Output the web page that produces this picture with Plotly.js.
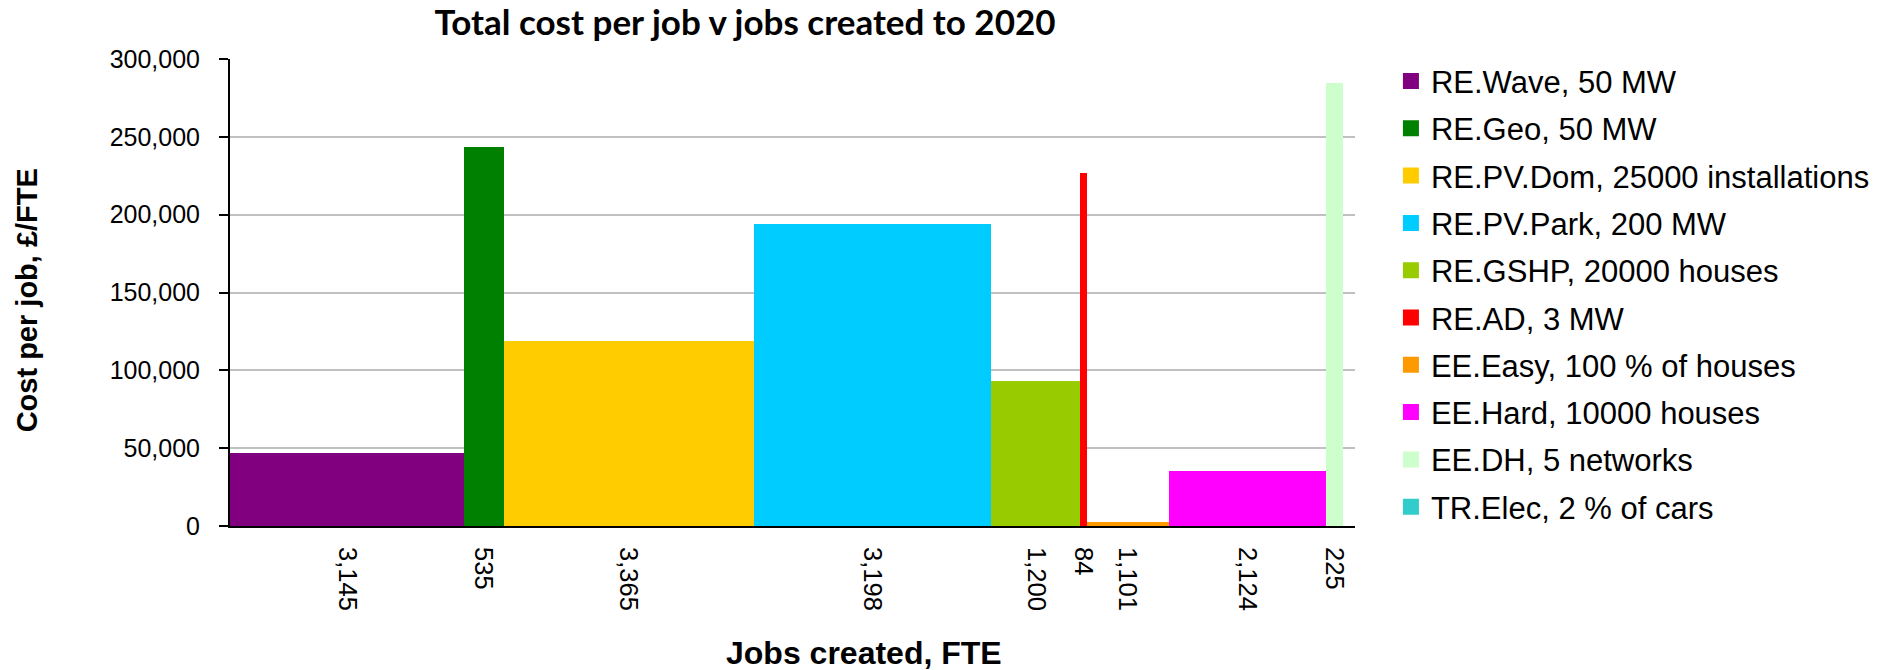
<!DOCTYPE html>
<html>
<head>
<meta charset="utf-8">
<script src="https://cdn.plot.ly/plotly-3.0.1.min.js"></script>
<style>html,body{margin:0;padding:0;background:#fff;}#chart{width:1887px;height:670px;}</style>
</head>
<body>
<div id="chart"></div>
<script>
// Data
const categories = [
  "RE.Wave, 50 MW",
  "RE.Geo, 50 MW",
  "RE.PV.Dom, 25000 installations",
  "RE.PV.Park, 200 MW",
  "RE.GSHP, 20000 houses",
  "RE.AD, 3 MW",
  "EE.Easy, 100 % of houses",
  "EE.Hard, 10000 houses",
  "EE.DH, 5 networks",
  "TR.Elec, 2 % of cars"
];
const jobsCreated = [3145, 535, 3365, 3198, 1200, 84, 1101, 2124, 225, 0];
const costPerJob = [47100, 243500, 118800, 194000, 93200, 226800, 2400, 35300, 284600, 0];
const colors = ["#800080", "#008000", "#FFCC00", "#00CCFF", "#99CC00", "#FF0000", "#FF9900", "#FF00FF", "#CCFFCC", "#33CCCC"];

// Bar positions: cumulative jobs (variable-width bars)
const centers = [];
let cum = 0;
jobsCreated.forEach(j => { centers.push(cum + j / 2); cum += j; });
const totalJobs = cum;

const tickVals = [], tickText = [];
jobsCreated.forEach((j, i) => {
  if (j > 0) { tickVals.push(centers[i]); tickText.push(j.toLocaleString('en-GB')); }
});

const traces = [];
categories.forEach((name, i) => {
  if (jobsCreated[i] > 0) {
    traces.push({
      type: 'bar', x: [centers[i]], y: [costPerJob[i]], width: [jobsCreated[i]],
      marker: {color: colors[i], line: {width: 0}},
      name: name, showlegend: false, legendgroup: 'g' + i, hoverinfo: 'name+y'
    });
  }
});
categories.forEach((name, i) => {
  traces.push({
    type: 'scatter', mode: 'markers', x: [null], y: [null],
    marker: {symbol: 'square', size: 21, color: colors[i]},
    name: name, legendgroup: 'g' + i, showlegend: true, hoverinfo: 'skip'
  });
});

const layout = {
  width: 1887, height: 670,
  margin: {l: 230, r: 530, t: 59, b: 144},
  paper_bgcolor: '#ffffff', plot_bgcolor: '#ffffff',
  barmode: 'overlay', bargap: 0,
  font: {family: 'Liberation Sans, Arial, sans-serif', color: '#000000'},
  title: {
    text: 'Total cost per job v jobs created to 2020',
    font: {family: 'Lato, sans-serif', size: 35, weight: 'bold', color: '#000'},
    x: 745 / 1887, xanchor: 'center', y: 1 - 23 / 670, yanchor: 'middle'
  },
  xaxis: {
    range: [0, totalJobs + 160],
    tickvals: tickVals, ticktext: tickText, tickangle: 90,
    ticks: '', showgrid: false, zeroline: false,
    showline: true, linecolor: '#000', linewidth: 2,
    tickfont: {size: 25.5, family: 'Liberation Sans, Arial, sans-serif'},
    ticklabelstandoff: 14, fixedrange: true
  },
  yaxis: {
    range: [0, 300000], dtick: 50000, tick0: 0, tickformat: ',d',
    ticks: 'outside', ticklen: 9, tickwidth: 2, tickcolor: '#000',
    showline: true, linecolor: '#000', linewidth: 2,
    showgrid: true, gridcolor: '#c0c0c0', gridwidth: 2, zeroline: false,
    tickfont: {size: 25, family: 'Liberation Sans, Arial, sans-serif'},
    ticklabelstandoff: 14,
    fixedrange: true
  },
  annotations: [{
    text: 'Jobs created, FTE', xref: 'paper', yref: 'paper',
    x: (865 - 230) / 1127, y: (526 - 653) / 467, xanchor: 'center', yanchor: 'middle',
    showarrow: false, font: {size: 32, weight: 'bold', family: 'Liberation Sans, Arial, sans-serif'}
  }, {
    text: 'Cost per job, £/FTE', xref: 'paper', yref: 'paper', textangle: -90,
    x: (27 - 230) / 1127, y: (526 - 300) / 467, xanchor: 'center', yanchor: 'middle',
    showarrow: false, font: {size: 29, weight: 'bold', family: 'Liberation Sans, Arial, sans-serif'}
  }],
  legend: {
    x: (1393 - 230) / 1127, xanchor: 'left', y: 1.01, yanchor: 'top',
    traceorder: 'grouped', tracegroupgap: 4, itemwidth: 30,
    maxheight: 660,
    font: {size: 31, family: 'Liberation Sans, Arial, sans-serif'},
    bgcolor: 'rgba(0,0,0,0)', borderwidth: 0
  },
  showlegend: true
};

Plotly.newPlot('chart', traces, layout, {displayModeBar: false, staticPlot: true});
</script>
</body>
</html>
